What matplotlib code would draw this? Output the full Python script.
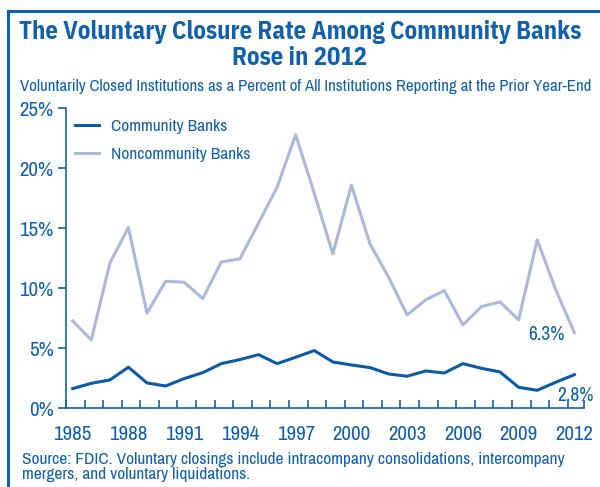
import matplotlib.pyplot as plt
import matplotlib.lines as mlines

# Data (percent)
years = list(range(1985, 2013))
community = [1.64, 2.08, 2.36, 3.42, 2.11, 1.86, 2.47, 2.97, 3.72, 4.06,
             4.47, 3.72, 4.25, 4.81, 3.86, 3.61, 3.39, 2.86, 2.67, 3.11,
             2.94, 3.72, 3.33, 3.03, 1.75, 1.50, 2.17, 2.80]
noncommunity = [7.28, 5.69, 12.08, 15.06, 7.92, 10.58, 10.50, 9.14, 12.19, 12.44,
                15.42, 18.42, 22.78, 17.92, 12.86, 18.58, 13.69, 10.92, 7.78, 9.03,
                9.81, 6.94, 8.47, 8.86, 7.36, 14.03, 9.86, 6.30]
label_years = list(range(1985, 2013, 3))
y_ticks = [0, 5, 10, 15, 20, 25]

blue = '#1060ad'
dark = '#0b5aa6'
light = '#a9b8dc'
body_font = ['Archivo Narrow', 'DejaVu Sans']
title_font = ['IBM Plex Sans Condensed', 'DejaVu Sans']
plt.rcParams['font.family'] = body_font

fig = plt.figure(figsize=(6, 4.87), dpi=100)
ax = fig.add_axes([0.11, 0.1616, 0.864, 0.6164])

ax.plot(years, noncommunity, color=light, lw=2.2)
ax.plot(years, community, color=dark, lw=2.2)

ax.set_xlim(1984.64, 2012.54)
ax.set_ylim(0, 25)
ax.set_yticks(y_ticks)
ax.set_yticklabels([f'{v}%' for v in y_ticks])
ax.set_xticks(label_years)
ax.set_xticks([y - 0.36 for y in years] + [2012.54], minor=True)

for s in ['top', 'right']:
    ax.spines[s].set_visible(False)
for s in ['left', 'bottom']:
    ax.spines[s].set_color(blue)
    ax.spines[s].set_linewidth(1.2)
ax.tick_params(axis='x', which='major', length=0, pad=12, labelsize=15, labelcolor=blue)
ax.tick_params(axis='x', which='minor', length=6, width=1.2, color=blue, direction='in')
ax.tick_params(axis='y', length=6, width=1.2, color=blue, direction='out',
               labelsize=15, labelcolor=blue, pad=3)

# legend with community first
h_c = mlines.Line2D([], [], color=dark, lw=2.2)
h_n = mlines.Line2D([], [], color=light, lw=2.2)
ax.legend([h_c, h_n], ['Community Banks', 'Noncommunity Banks'], loc='upper left',
          bbox_to_anchor=(75 / 600, 1 - 119 / 487), bbox_transform=fig.transFigure,
          borderpad=0, borderaxespad=0, frameon=False, handlelength=1.4,
          handletextpad=0.7, labelcolor=blue, fontsize=12.5, labelspacing=0.72)

ax.annotate('6.3%', (years[-1], noncommunity[-1]), xytext=(-20, -1),
            textcoords='offset points', ha='center', va='center', color=blue, fontsize=14)
ax.annotate('2.8%', (years[-1], community[-1]), xytext=(1, -15),
            textcoords='offset points', ha='center', va='center', color=blue, fontsize=14)

fig.text(0.5, 0.934, 'The Voluntary Closure Rate Among Community Banks',
         ha='center', va='center', fontsize=17.8, fontweight='bold', color=blue,
         family=title_font)
fig.text(0.5, 0.881, 'Rose in 2012', ha='center', va='center', fontsize=17.8,
         fontweight='bold', color=blue, family=title_font)
fig.text(0.51, 0.823, 'Voluntarily Closed Institutions as a Percent of All Institutions Reporting at the Prior Year-End',
         ha='center', va='center', fontsize=12.1, color=blue)
fig.text(0.037, 0.041, 'Source: FDIC. Voluntary closings include intracompany consolidations, intercompany\nmergers, and voluntary liquidations.',
         ha='left', va='center', fontsize=12.5, color=blue, linespacing=1.05)

# frame lines at left and top
fig.add_artist(mlines.Line2D([0.014, 0.014], [0, 0.978], color=blue, lw=2.2))
fig.add_artist(mlines.Line2D([0.014, 1.0], [0.978, 0.978], color=blue, lw=2.2))

fig.savefig('out.png', dpi=100)
